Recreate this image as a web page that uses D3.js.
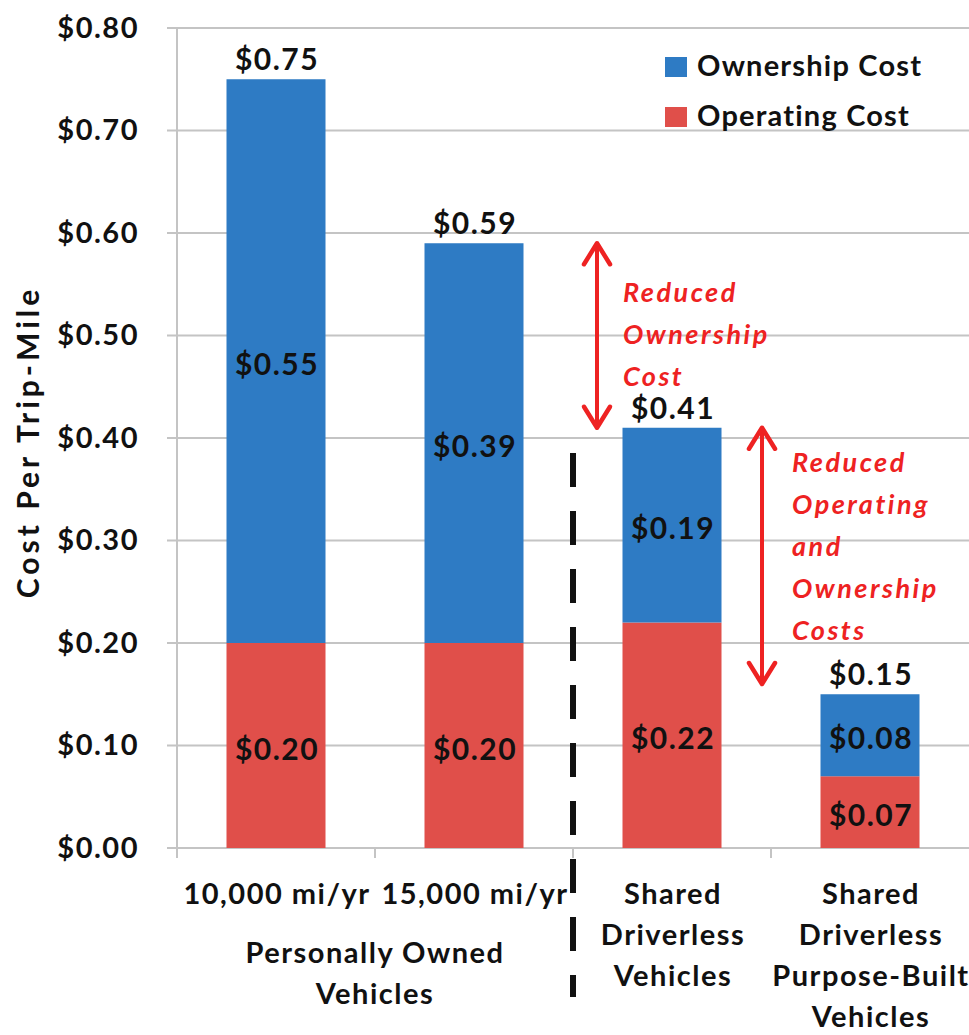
<!DOCTYPE html>
<html>
<head>
<meta charset="utf-8">
<script src="https://cdn.jsdelivr.net/npm/d3@7"></script>
<style>
  body { margin: 0; background: #fff; }
  svg { display: block; font-family: Lato, "Open Sans", sans-serif; font-weight: bold; }
</style>
</head>
<body>
<script>
// categories, one line per label row
const categories = ["10k", "15k", "shared", "purpose"];
const categoryLabels = [
  ["10,000 mi/yr"],
  ["15,000 mi/yr"],
  ["Shared", "Driverless", "Vehicles"],
  ["Shared", "Driverless", "Purpose-Built", "Vehicles"]
];
const groupLabel = ["Personally Owned", "Vehicles"];
const operating = [0.20, 0.20, 0.22, 0.07];
const ownership = [0.55, 0.39, 0.19, 0.08];
const totals = [0.75, 0.59, 0.41, 0.15];
const yTicks = [0, 0.1, 0.2, 0.3, 0.4, 0.5, 0.6, 0.7, 0.8];
const seriesNames = ["Operating Cost", "Ownership Cost"];
const colors = {"Operating Cost": "#e04f4a", "Ownership Cost": "#2e7bc4"};

const width = 969, height = 1035;
const margin = {top: 28, right: 0, bottom: 187, left: 177};

const svg = d3.select("body").append("svg")
    .attr("width", width)
    .attr("height", height);

const x = d3.scaleBand()
    .domain(categories)
    .range([margin.left, width - margin.right])
    .paddingInner(0.5)
    .paddingOuter(0.25);

const y = d3.scaleLinear()
    .domain([0, 0.8])
    .range([height - margin.bottom, margin.top]);

const fmt = d => "$" + d3.format(".2f")(d);
const ink = "#111";

// gridlines
svg.append("g")
    .attr("stroke", "#c4c4c4")
    .attr("stroke-width", 2)
  .selectAll("line")
  .data(yTicks)
  .join("line")
    .attr("x1", margin.left - 10)
    .attr("x2", width)
    .attr("y1", d => y(d))
    .attr("y2", d => y(d));

// y axis
svg.append("g")
    .attr("transform", `translate(${margin.left},0)`)
    .call(d3.axisLeft(y).tickValues(yTicks).tickFormat(fmt).tickSize(0).tickPadding(38))
    .call(g => g.select(".domain").attr("stroke", "#c4c4c4").attr("stroke-width", 2)
        .attr("d", `M0,${margin.top}V${y(0) + 10}`))
    .call(g => g.selectAll("text")
        .attr("font-size", 29).attr("font-family", "Lato").attr("font-weight", "bold")
        .attr("letter-spacing", 1.5).attr("fill", ink));

// x axis ticks at category boundaries
const bounds = categories.map(c => x(c) - (x.step() - x.bandwidth()) / 2);
bounds.push(width);
svg.append("g")
    .attr("stroke", "#c4c4c4")
    .attr("stroke-width", 2)
  .selectAll("line")
  .data(bounds.slice(1, -1))
  .join("line")
    .attr("x1", d => d).attr("x2", d => d)
    .attr("y1", y(0)).attr("y2", y(0) + 10);

svg.append("text")
    .attr("transform", `translate(39,${(y(0) + y(0.8)) / 2 + 4}) rotate(-90)`)
    .attr("text-anchor", "middle")
    .attr("font-size", 30)
    .attr("letter-spacing", 4)
    .attr("fill", ink)
    .text("Cost Per Trip-Mile");

// stacked bars
const rows = categories.map((c, i) => ({cat: c, "Operating Cost": operating[i], "Ownership Cost": ownership[i]}));
const stacked = d3.stack().keys(seriesNames)(rows);

svg.append("g")
  .selectAll("g")
  .data(stacked)
  .join("g")
    .attr("fill", d => colors[d.key])
  .selectAll("rect")
  .data(d => d)
  .join("rect")
    .attr("x", d => x(d.data.cat))
    .attr("width", x.bandwidth())
    .attr("y", d => y(d[1]))
    .attr("height", d => y(d[0]) - y(d[1]));

// segment labels
svg.append("g")
  .selectAll("g")
  .data(stacked)
  .join("g")
  .selectAll("text")
  .data(d => d.map(s => ({s, v: s.data[d.key]})))
  .join("text")
    .attr("x", d => x(d.s.data.cat) + x.bandwidth() / 2 + 1)
    .attr("y", d => y((d.s[0] + d.s[1]) / 2) + 14)
    .attr("text-anchor", "middle")
    .attr("font-size", 30)
    .attr("letter-spacing", 1.5)
    .attr("fill", ink)
    .text(d => fmt(d.v));

// totals
svg.append("g")
  .selectAll("text")
  .data(categories)
  .join("text")
    .attr("x", c => x(c) + x.bandwidth() / 2 + 1)
    .attr("y", (c, i) => y(totals[i]) - 9)
    .attr("text-anchor", "middle")
    .attr("font-size", 30)
    .attr("letter-spacing", 1.5)
    .attr("fill", ink)
    .text((c, i) => fmt(totals[i]));

// category labels
function multiline(cx, cy, lines) {
  svg.append("text")
      .attr("x", cx)
      .attr("y", cy)
      .attr("text-anchor", "middle")
      .attr("font-size", 29)
      .attr("letter-spacing", 1.5)
      .attr("fill", ink)
    .selectAll("tspan")
    .data(lines)
    .join("tspan")
      .attr("x", cx)
      .attr("dy", (d, j) => j === 0 ? 0 : 41)
      .text(d => d);
}
categories.forEach((c, i) => multiline(x(c) + x.bandwidth() / 2 + 1, 904, categoryLabels[i]));
multiline(bounds[1], 963, groupLabel);

// dashed divider
svg.append("line")
    .attr("x1", bounds[2]).attr("x2", bounds[2])
    .attr("y1", 453).attr("y2", 997)
    .attr("stroke", ink)
    .attr("stroke-width", 6)
    .attr("stroke-dasharray", "34 24");

// legend
const legend = svg.append("g")
  .selectAll("g")
  .data(["Ownership Cost", "Operating Cost"])
  .join("g")
    .attr("transform", (d, i) => `translate(665,${57 + i * 50})`);
legend.append("rect")
    .attr("width", 22).attr("height", 20)
    .attr("fill", d => colors[d]);
legend.append("text")
    .attr("x", 32).attr("y", 19)
    .attr("font-size", 29)
    .attr("letter-spacing", 1.2)
    .attr("fill", ink)
    .text(d => d);

// annotations
const red = "#ee2222";
const arrows = [
  {x: 597, from: totals[1], to: totals[2], lines: ["Reduced", "Ownership", "Cost"], tx: 623, ty: 302},
  {x: 762, from: totals[2], to: 0.16, lines: ["Reduced", "Operating", "and", "Ownership", "Costs"], tx: 792, ty: 472}
];
arrows.forEach(a => {
  svg.append("line")
      .attr("x1", a.x).attr("x2", a.x)
      .attr("y1", y(a.from) + 3).attr("y2", y(a.to) - 3)
      .attr("stroke", red)
      .attr("stroke-width", 4);
  [y(a.from), y(a.to)].forEach((py, k) => {
    const dir = k === 0 ? 1 : -1;
    svg.append("path")
        .attr("d", `M${a.x - 13},${py + dir * 21}L${a.x},${py}L${a.x + 13},${py + dir * 21}`)
        .attr("fill", "none")
        .attr("stroke", red)
        .attr("stroke-width", 4.5)
        .attr("stroke-linecap", "round")
        .attr("stroke-linejoin", "round");
  });
  svg.append("text")
      .attr("x", a.tx).attr("y", a.ty)
      .attr("font-size", 27)
      .attr("font-style", "italic")
      .attr("letter-spacing", 2.5)
      .attr("fill", red)
    .selectAll("tspan")
    .data(a.lines)
    .join("tspan")
      .attr("x", a.tx)
      .attr("dy", (d, j) => j === 0 ? 0 : 42)
      .text(d => d);
});
</script>
</body>
</html>
